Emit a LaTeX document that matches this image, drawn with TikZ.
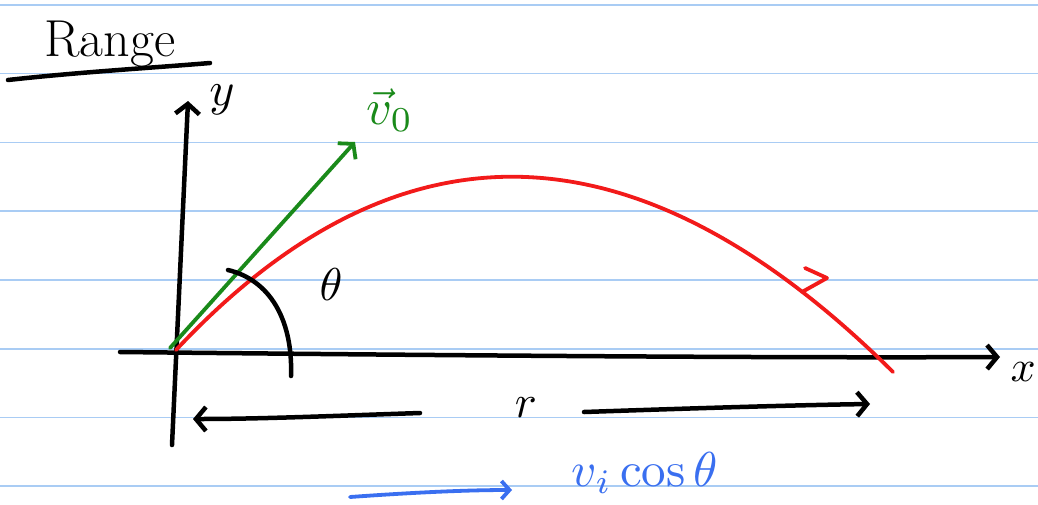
\documentclass[tikz,border=0pt]{standalone}
\usetikzlibrary{arrows.meta}
\definecolor{ruled}{HTML}{A9CCF4}
\definecolor{inkgreen}{HTML}{1A8A1A}
\definecolor{inkred}{HTML}{F21A1A}
\definecolor{inkblue}{HTML}{3A6FF0}
\tikzset{
  ink/.style={line width=4.5pt, line cap=round, line join=round},
  colink/.style={line width=3.8pt, line cap=round, line join=round},
  barb/.style={-{Straight Barb[length=10pt,width=24pt]}},
  ruleline/.style={ruled, line width=1.4pt},
  lbl/.style={inner sep=0pt}
}
\begin{document}
\begin{tikzpicture}[x=1pt,y=-1pt]
\useasboundingbox (0,0) rectangle (1038,504);
\fill[white] (0,0) rectangle (1038,504);
% ruled lines
\foreach \yy in {5,73.5,142.5,211,280,349,417.5,486}
  \draw[ruleline] (0,\yy) -- (1038,\yy);
% title
\node[lbl, font=\fontsize{52}{56}\selectfont] (title) at (110,44) {Range};
\coordinate (ulA) at (8,80);
\coordinate (ulB) at (210,63);
\draw[ink] (ulA) .. controls (80,72) and (150,68) .. (ulB);
% axes
\coordinate (O) at (172,350);
\coordinate (ybot) at (172,445);
\coordinate (ytop) at (188,101);
\coordinate (xleft) at (120,352);
\coordinate (xright) at (1000,357);
\draw[ink, barb] (ybot) -- (ytop);
\draw[ink, barb] (xleft) .. controls (500,356) and (800,358) .. (xright);
\node[lbl] (ylab) at (222,100) {\scalebox{4.8}{$y$}};
\node[lbl, anchor=east] (xlab) at (1036,372) {\scalebox{4.4}{$x$}};
% initial velocity
\coordinate (vstart) at (170,348);
\coordinate (vend) at (355,142);
\draw[colink, inkgreen, barb] (vstart) -- (vend);
\node[lbl, text=inkgreen] (vlab) at (390,110) {\scalebox{5}{$\vec{v}_0$}};
% trajectory
\coordinate (pstart) at (176,350);
\coordinate (pend) at (893,372);
\draw[colink, inkred] (pstart) .. controls (399,112) and (638,119) .. (pend);
\coordinate (m1) at (805,268);
\coordinate (m2) at (827,278);
\coordinate (m3) at (802,292);
\draw[colink, inkred] (m1) -- (m2) -- (m3);
% angle
\coordinate (aA) at (228,270);
\coordinate (aB) at (291,376);
\draw[ink] (aA) .. controls (270,280) and (293,320) .. (aB);
\node[lbl] (theta) at (331,285) {\scalebox{4.6}{$\theta$}};
% range
\node[lbl] (r) at (526,408) {\scalebox{4.6}{$r$}};
\coordinate (rl) at (193,419);
\coordinate (rr) at (870,404);
\draw[ink, barb] (420,413) .. controls (330,416) and (260,419) .. (rl);
\draw[ink, barb] (584,412) .. controls (700,408) and (800,405) .. (rr);
% horizontal component
\coordinate (ba) at (350,497);
\coordinate (bb) at (512,490);
\draw[colink, inkblue, -{Straight Barb[length=8pt,width=18pt]}] (ba) .. controls (420,492) and (470,490) .. (bb);
\node[lbl, text=inkblue] (comp) at (645,473) {\scalebox{4.9}{$v_i\cos\theta$}};
\end{tikzpicture}
\end{document}
